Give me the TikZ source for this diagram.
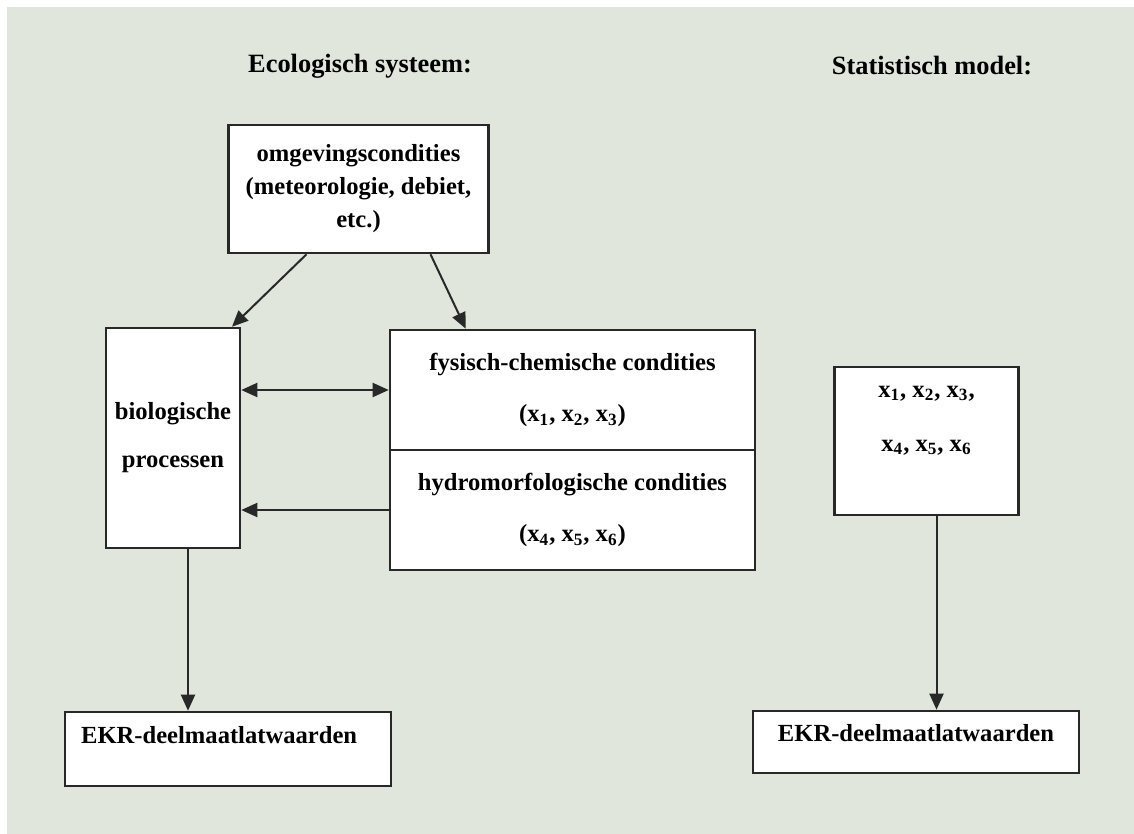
\documentclass[tikz,border=0pt]{standalone}
\usepackage{fontspec}
\setmainfont{Liberation Serif}
\usetikzlibrary{arrows.meta,positioning,calc}
\definecolor{sheetbg}{RGB}{224,230,220}
\definecolor{edge}{RGB}{40,40,40}

\begin{document}
\begin{tikzpicture}[x=0.5pt,y=-0.5pt,
  box/.style={draw=edge, line width=1.3pt, fill=white, align=center,
              inner sep=0pt, font=\fontsize{12.3pt}{16.5pt}\selectfont\bfseries},
  txt/.style={align=center, inner sep=0pt,
              font=\fontsize{12.3pt}{16.5pt}\selectfont\bfseries},
  head/.style={font=\fontsize{13.2pt}{16pt}\selectfont\bfseries},
  arr/.style={-{Triangle[length=8pt,width=7pt]}, line width=1pt, edge},
  arrs/.style={{Triangle[length=8pt,width=7pt]}-{Triangle[length=8pt,width=7pt]},
               line width=1pt, edge}
]
\useasboundingbox (0,0) rectangle (1134,834);
\fill[white] (0,0) rectangle (1134,834);
\fill[sheetbg] (7,7) rectangle (1134,834);

% headings
\node[head] (ecohead) at (360,66) {Ecologisch systeem:};
\node[head] (stathead) at (932,66) {Statistisch model:};

% ecologisch systeem
\node[box, minimum width=130pt, minimum height=64pt] (omg) at (358.5,189)
  {omgevingscondities\\(meteorologie, debiet,\\etc.)};
\node[box, minimum width=67pt, minimum height=110pt] (bio) at (173,438)
  {biologische\\[7.5pt]processen};
\node[box, minimum width=182.5pt, minimum height=60pt] (fc) at (572.5,390)
  {fysisch-chemische condities\\[9pt](x\textsubscript{1}, x\textsubscript{2}, x\textsubscript{3})};
\node[box, minimum width=182.5pt, minimum height=60pt] (hm) at (572.5,510)
  {hydromorfologische condities\\[9pt](x\textsubscript{4}, x\textsubscript{5}, x\textsubscript{6})};
\node[box, minimum width=163pt, minimum height=37pt] (ekrL) at (228,749) {};
\node[txt, below right=7.5pt and 8.5pt of ekrL.north west] (ekrLtxt)
  {EKR-deelmaatlatwaarden};

% statistisch model
\node[box, minimum width=92pt, minimum height=74pt] (xbox) at (926.5,441) {};
\node[txt, below=10pt of xbox.north] (xlist)
  {x\textsubscript{1}, x\textsubscript{2}, x\textsubscript{3},\\[10.5pt]x\textsubscript{4}, x\textsubscript{5}, x\textsubscript{6}};
\node[box, minimum width=163pt, minimum height=31pt] (ekrR) at (916,742) {};
\node[txt, below=7.25pt of ekrR.north] (ekrRtxt) {EKR-deelmaatlatwaarden};

% verbindingen
\draw[arr] ($(omg.south)+(-52,0)$) -- ($(bio.north)+(59,0)$);
\draw[arr] ($(omg.south)+(72,0)$) -- ($(fc.north west)+(77,0)$);
\draw[arrs] (bio.east |- fc.west) -- (fc.west);
\draw[arr] (hm.west) -- (hm.west -| bio.east);
\draw[arr] ($(bio.south)+(15,0)$) -- ($(bio.south |- ekrL.north)+(15,0)$);
\draw[arr] ($(xbox.south)+(10,0)$) -- ($(xbox.south |- ekrR.north)+(10,0)$);
\end{tikzpicture}
\end{document}
